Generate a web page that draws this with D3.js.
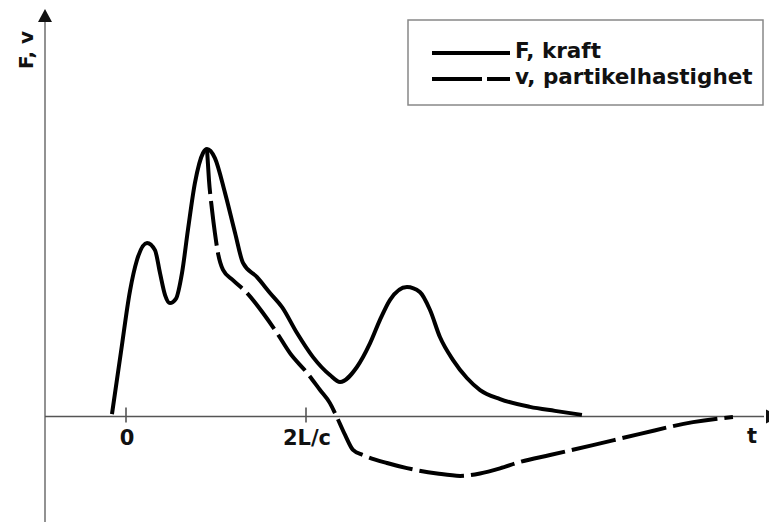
<!DOCTYPE html>
<html lang="en">
<head>
    <meta charset="UTF-8">
    <title>F, v</title>
    <script src="https://cdn.jsdelivr.net/npm/d3@7"></script>
    <style>
        body { margin: 0; background: #fff; }
        text { font-family: "DejaVu Sans", Verdana, sans-serif; font-weight: bold; fill: #111; }
    </style>
</head>
<body>
<svg width="769" height="522"></svg>
<script>

    // t in units of 2L/c, values relative to the main F peak
    const forceT = [-0.078, -0.028, 0.022, 0.061, 0.117, 0.161, 0.189, 0.217, 0.244, 0.278, 0.311, 0.344, 0.383, 0.428, 0.45, 0.494, 0.55, 0.606, 0.65, 0.728, 0.8, 0.867, 0.95, 1.039, 1.133, 1.189, 1.283, 1.356, 1.411, 1.467, 1.561, 1.633, 1.689, 1.744, 1.817, 1.894, 1.967, 2.078, 2.244, 2.383, 2.533]
    const forceVal = [0.009, 0.241, 0.469, 0.585, 0.649, 0.622, 0.536, 0.454, 0.424, 0.441, 0.536, 0.697, 0.873, 0.985, 1.0, 0.966, 0.836, 0.686, 0.574, 0.521, 0.462, 0.409, 0.312, 0.222, 0.155, 0.129, 0.185, 0.274, 0.361, 0.436, 0.484, 0.465, 0.398, 0.297, 0.211, 0.144, 0.099, 0.065, 0.036, 0.021, 0.006]

    const velT = [0.45, 0.461, 0.478, 0.494, 0.511, 0.539, 0.594, 0.672, 0.761, 0.839, 0.911, 1.006, 1.078, 1.133, 1.161, 1.217, 1.261, 1.317, 1.45, 1.561, 1.728, 1.856, 1.967, 2.078, 2.189, 2.356, 2.594, 2.856, 3.15, 3.372]
    const velVal = [1.0, 0.884, 0.772, 0.686, 0.611, 0.548, 0.51, 0.462, 0.387, 0.312, 0.237, 0.163, 0.099, 0.05, 0.013, -0.069, -0.125, -0.144, -0.174, -0.193, -0.213, -0.222, -0.213, -0.194, -0.17, -0.144, -0.107, -0.065, -0.021, -0.002]

    const tickVals = [0, 1]
    const tickLabels = ["0", "2L/c"]
    const legendLabels = ["F, kraft", "v, partikelhastighet"]

    const svg = d3.select("svg")
    const x = d3.scaleLinear().domain([0, 1]).range([126, 306])
    const y = d3.scaleLinear().domain([0, 1]).range([416.5, 149])

    const axisX = 45
    const axisColor = "#555"

    // y axis with arrow
    svg.append("line")
        .attr("x1", axisX).attr("x2", axisX)
        .attr("y1", 522).attr("y2", 20)
        .attr("stroke", "#777").attr("stroke-width", 1.6)
    svg.append("path")
        .attr("d", `M${axisX - 7},22 L${axisX},9 L${axisX + 7},22 Z`)
        .attr("fill", "#111")

    // x axis with arrow
    svg.append("line")
        .attr("x1", axisX).attr("x2", 764)
        .attr("y1", y(0)).attr("y2", y(0))
        .attr("stroke", axisColor).attr("stroke-width", 1.6)
    svg.append("path")
        .attr("d", `M766,${y(0) - 7} L779,${y(0)} L766,${y(0) + 7} Z`)
        .attr("fill", "#111")

    svg.selectAll(".tick")
        .data(tickVals)
        .join("line")
        .attr("class", "tick")
        .attr("x1", d => x(d)).attr("x2", d => x(d))
        .attr("y1", y(0) - 9).attr("y2", y(0) + 6)
        .attr("stroke", axisColor).attr("stroke-width", 1.6)

    svg.selectAll(".ticklabel")
        .data(tickVals)
        .join("text")
        .attr("class", "ticklabel")
        .attr("x", d => x(d) + 1)
        .attr("y", 445)
        .attr("text-anchor", "middle")
        .attr("font-size", 21)
        .text((d, i) => tickLabels[i])

    svg.append("text")
        .attr("x", 752).attr("y", 443)
        .attr("text-anchor", "middle")
        .attr("font-size", 21)
        .text("t")

    svg.append("text")
        .attr("transform", "translate(33,50) rotate(-90)")
        .attr("text-anchor", "middle")
        .attr("font-size", 20)
        .text("F, v")

    const line = d3.line()
        .x(d => x(d[0]))
        .y(d => y(d[1]))
        .curve(d3.curveMonotoneX)

    const dash = "45,7"

    svg.append("path")
        .datum(d3.zip(velT, velVal))
        .attr("d", line)
        .attr("fill", "none")
        .attr("stroke", "#000")
        .attr("stroke-width", 4)
        .attr("stroke-dasharray", dash)

    svg.append("path")
        .datum(d3.zip(forceT, forceVal))
        .attr("d", line)
        .attr("fill", "none")
        .attr("stroke", "#000")
        .attr("stroke-width", 4)

    // legend
    const legend = svg.append("g")
    legend.append("rect")
        .attr("x", 408).attr("y", 20)
        .attr("width", 355).attr("height", 85)
        .attr("fill", "#fff")
        .attr("stroke", "#888").attr("stroke-width", 1.5)

    const rows = legend.selectAll(".row")
        .data(legendLabels)
        .join("g")
        .attr("class", "row")
        .attr("transform", (d, i) => `translate(0,${53 + i * 26})`)
    rows.append("line")
        .attr("x1", 432).attr("x2", 510)
        .attr("stroke", "#000").attr("stroke-width", 4)
        .attr("stroke-dasharray", (d, i) => i ? "50,5" : null)
    rows.append("text")
        .attr("x", 515).attr("y", 5)
        .attr("font-size", 21.5)
        .text(d => d)

</script>
</body>
</html>
